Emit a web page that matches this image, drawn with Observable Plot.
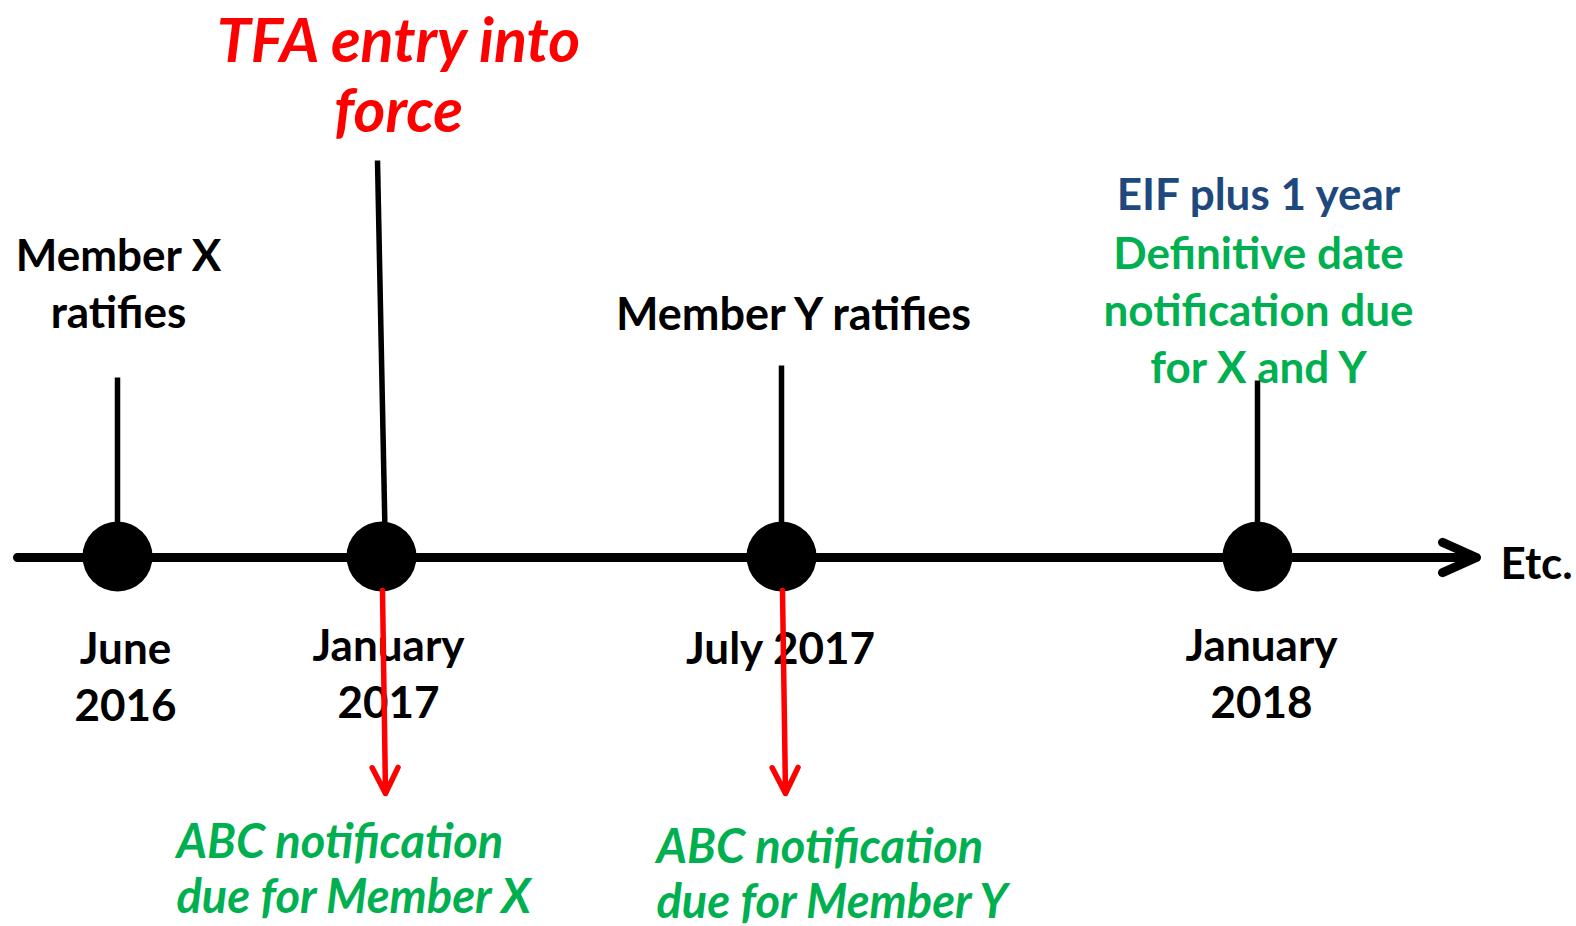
<!DOCTYPE html>
<html>
<head>
<meta charset="utf-8">
<script src="https://cdn.jsdelivr.net/npm/d3@7"></script>
<script src="https://cdn.jsdelivr.net/npm/@observablehq/plot@0.6"></script>
<style>
  html, body { margin: 0; padding: 0; background: #ffffff; }
  #chart svg { display: block; }
</style>
</head>
<body>
<div id="chart"></div>
<script>
// ---------------- data ----------------
const eventDates   = ["2016-06-01", "2017-01-01", "2017-07-01", "2018-01-01"];
const dateLabels   = ["June\n2016", "January\n2017", "July 2017", "January\n2018"];
const eventNotes   = ["Member X\nratifies", "TFA entry into\nforce", "Member Y ratifies", "EIF plus 1 year"];
const eifDueNote   = "Definitive date\nnotification due\nfor X and Y";
const abcDueFrom   = ["2017-01-01", "2017-07-01"];
const abcDueText   = ["ABC notification\ndue for Member X", "ABC notification\ndue for Member Y"];
const timelineSpan = ["2016-03-01", "2018-07-01"];
const moreText     = "Etc.";

// ---------------- layout (positions, sizes, styles) ----------------
const W = 1576, H = 926;
const parse = d3.utcParse("%Y-%m-%d");
const xDomain = [timelineSpan[0], ...eventDates, timelineSpan[1]].map(parse);
const xRange  = [17, 117, 381, 781, 1257, 1476];
const xOpts = {type: "utc", domain: xDomain, range: xRange, axis: null};
const xScale = Plot.scale({x: xOpts});
// shift a date by a number of pixels along the x scale (for slightly leaning strokes)
const nudge = (date, px) => xScale.invert(xScale.apply(date) + px);

const axisY = 557, dotY = 556, dotR = 35;
const stemTop = [377, 160, 365, 380];
const stemLeanTop = [0, -4, 0, 0];
const stemLeanBottom = [0, 4, 0, 0];
const noteLayout = [
  {dx: 1,  y: 327, size: 44, color: "#000000", style: "normal", lh: 57},
  {dx: 17, y: 131, size: 61, color: "#FF0000", style: "italic", lh: 70},
  {dx: 12, y: 329, size: 45, color: "#000000", style: "normal", lh: 57},
  {dx: 1,  y: 209, size: 44, color: "#1F497D", style: "normal", lh: 57}
];
const eifDueLayout = {dx: 1, y: 382, size: 44, color: "#00B050", lh: 57};
const dateLayout = [
  {dx: 8,  y: 720}, {dx: 7, y: 717}, {dx: -1, y: 663}, {dx: 4, y: 717}
];
const abcLayout = [{dx: -205, y: 912}, {dx: -125, y: 917}];
const abcSize = 47;
const abcArrow = {y1: 590, y2: 793, leanTop: 1, leanBottom: 4};
const font = "Lato, 'Open Sans', sans-serif";

const events = eventDates.map((d, i) => ({date: parse(d), i}));
const dues = abcDueFrom.map((d, i) => ({date: parse(d), i}));

const marks = [];

// event notes above the timeline
eventNotes.forEach((t, i) => {
  const L = noteLayout[i];
  marks.push(Plot.text([events[i]], {
    x: "date", y: () => L.y, text: () => t, dx: L.dx,
    lineAnchor: "bottom", lineHeight: L.lh / L.size,
    fontSize: L.size, fontWeight: "bold", fontStyle: L.style,
    fontFamily: font, fill: L.color, textAnchor: "middle"
  }));
});
marks.push(Plot.text([events[3]], {
  x: "date", y: () => eifDueLayout.y, text: () => eifDueNote, dx: eifDueLayout.dx,
  lineAnchor: "bottom", lineHeight: eifDueLayout.lh / eifDueLayout.size,
  fontSize: eifDueLayout.size, fontWeight: "bold", fontFamily: font,
  fill: eifDueLayout.color, textAnchor: "middle"
}));

// date labels below the timeline
dateLabels.forEach((t, i) => {
  const L = dateLayout[i];
  marks.push(Plot.text([events[i]], {
    x: "date", y: () => L.y, text: () => t, dx: L.dx,
    lineAnchor: "bottom", lineHeight: 57 / 44,
    fontSize: 44, fontWeight: "bold", fontFamily: font, fill: "#000000", textAnchor: "middle"
  }));
});

// ABC notification texts
abcDueText.forEach((t, i) => {
  const L = abcLayout[i];
  marks.push(Plot.text([dues[i]], {
    x: "date", y: () => L.y, text: () => t, dx: L.dx,
    lineAnchor: "bottom", lineHeight: 55 / abcSize,
    fontSize: abcSize, fontWeight: "bold", fontStyle: "italic", fontFamily: font,
    fill: "#00B050", textAnchor: "start"
  }));
});

// timeline arrow
marks.push(Plot.arrow([{a: xDomain[0], b: xDomain[xDomain.length - 1]}], {
  x1: "a", x2: "b", y1: () => axisY, y2: () => axisY,
  stroke: "#000000", strokeWidth: 9, headAngle: 48, headLength: 6.2,
  strokeLinecap: "round", strokeLinejoin: "round"
}));

// Etc.
marks.push(Plot.text([{d: xDomain[xDomain.length - 1]}], {
  x: "d", y: () => 578, text: () => moreText, dx: 24,
  fontSize: 44, fontWeight: "bold", fontFamily: font, fill: "#000000",
  textAnchor: "start", lineAnchor: "bottom"
}));

// stems
marks.push(Plot.link(events, {
  x1: (d) => nudge(d.date, stemLeanTop[d.i]),
  x2: (d) => nudge(d.date, stemLeanBottom[d.i]),
  y1: (d) => stemTop[d.i], y2: () => dotY,
  stroke: "#000000", strokeWidth: 5.5
}));

// event dots
marks.push(Plot.dot(events, {
  x: "date", y: () => dotY, r: dotR, fill: "#000000", stroke: "none"
}));

// red notification arrows
marks.push(Plot.arrow(dues, {
  x1: (d) => nudge(d.date, abcArrow.leanTop),
  x2: (d) => nudge(d.date, abcArrow.leanBottom),
  y1: () => abcArrow.y1, y2: () => abcArrow.y2,
  stroke: "#FF0000", strokeWidth: 5.5, headAngle: 53, headLength: 7.9,
  strokeLinecap: "round", strokeLinejoin: "round"
}));

const chart = Plot.plot({
  width: W, height: H,
  margin: 0,
  style: {background: "#ffffff", overflow: "visible"},
  x: xOpts,
  y: {type: "linear", domain: [0, H], range: [0, H], axis: null},
  marks
});
document.getElementById("chart").appendChild(chart);
</script>
</body>
</html>
